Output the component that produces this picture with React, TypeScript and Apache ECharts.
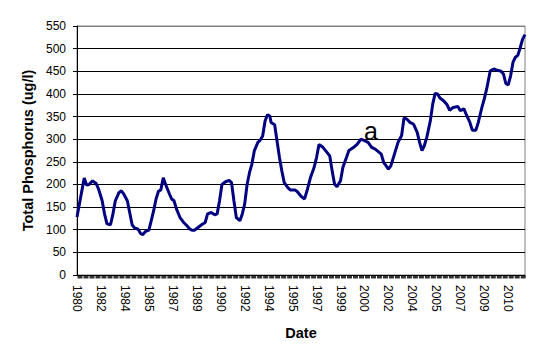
import React, { useEffect, useRef } from "react";
import * as echarts from "echarts";

// Category labels every 20 months along the date axis
const yearLabels = [
  "1980", "1982", "1984", "1985", "1987", "1989", "1990", "1992", "1994", "1995",
  "1997", "1999", "2000", "2002", "2004", "2005", "2007", "2009", "2010",
];

// Month index from start of record (0 = late 1980)
const monthIndex = [
  0, 6, 8, 10, 13, 16, 18, 21, 23, 25, 28, 30, 32, 35, 37, 39, 42, 44, 46, 48,
  51, 53, 55, 57, 60, 62, 64, 66, 68, 70, 72, 74, 77, 79, 81, 83, 86, 89, 91, 94,
  96, 98, 101, 104, 107, 109, 112, 115, 117, 119, 121, 124, 127, 129, 131, 133, 136, 138, 140, 142,
  144, 146, 148, 151, 153, 155, 157, 159, 161, 162, 165, 167, 169, 171, 173, 176, 178, 182, 184, 187,
  190, 192, 195, 198, 200, 202, 205, 208, 211, 213, 215, 217, 220, 222, 225, 227, 231, 234, 237, 240,
  243, 246, 249, 254, 256, 260, 262, 265, 268, 271, 273, 275, 278, 281, 284, 286, 288, 290, 292, 295,
  297, 299, 301, 303, 306, 309, 311, 314, 318, 320, 323, 325, 328, 330, 333, 335, 338, 340, 342, 345,
  348, 350, 354, 356, 358, 360, 362, 364, 366, 368, 370, 372, 374,
];

// Total phosphorus (ug/l)
const phosphorus = [
  128, 214, 199, 200, 208, 202, 190, 164, 135, 113, 111, 135, 164, 182, 186, 179, 164, 138, 111, 104,
  101, 92, 89, 96, 99, 120, 142, 168, 185, 188, 215, 200, 180, 168, 164, 146, 127, 116, 111, 102,
  99, 99, 105, 111, 116, 135, 138, 133, 135, 164, 200, 206, 209, 204, 164, 127, 120, 135, 157, 200,
  226, 245, 274, 293, 298, 307, 340, 354, 351, 337, 332, 296, 260, 230, 204, 193, 188, 188, 184, 174,
  168, 186, 216, 238, 260, 288, 283, 273, 263, 230, 201, 195, 208, 238, 260, 275, 282, 289, 300, 297,
  293, 282, 278, 267, 249, 234, 241, 267, 293, 308, 347, 345, 337, 333, 315, 293, 275, 286, 304, 341,
  378, 401, 400, 391, 385, 376, 364, 370, 372, 363, 367, 354, 337, 320, 320, 337, 370, 389, 411, 451,
  455, 453, 450, 444, 423, 420, 440, 470, 481, 485, 502, 521, 531,
];

// Minor tick marks on the date axis: every 5 months
const TICK_STEP = 5;
const MONTH_MAX = 374;
const tickMonths: number[] = [];
for (let m = 0; m < MONTH_MAX; m += TICK_STEP) tickMonths.push(m);

const FONT = "'Liberation Sans', Arial, sans-serif";

export default function App() {
  const ref = useRef<HTMLDivElement>(null);

  useEffect(() => {
    document.body.style.margin = "0";
    const chart = echarts.init(ref.current as HTMLDivElement, null, { renderer: "svg" });
    const gridColors: string[] = [];
    for (let i = 0; i < 11; i++) gridColors.push("#000000");
    gridColors.push("#808080");

    chart.setOption({
      animation: false,
      backgroundColor: "#ffffff",
      grid: {
        left: 77,
        right: 22,
        top: 26,
        bottom: 85,
        show: true,
        borderColor: "#808080",
        borderWidth: 1,
      },
      xAxis: {
        type: "value",
        min: 0,
        max: MONTH_MAX,
        interval: 20,
        name: "Date",
        nameLocation: "middle",
        nameGap: 50,
        nameTextStyle: { fontFamily: FONT, fontWeight: "bold", fontSize: 14.5, color: "#000" },
        axisLine: { show: true, lineStyle: { color: "#000", width: 1 } },
        axisTick: { show: false },
        splitLine: { show: false },
        axisLabel: {
          rotate: -90,
          margin: 10,
          fontFamily: FONT,
          fontSize: 12,
          color: "#000",
          showMaxLabel: false,
          formatter: (v: number) => (v % 20 === 0 && yearLabels[v / 20] ? yearLabels[v / 20] : ""),
        },
      },
      yAxis: {
        type: "value",
        min: 0,
        max: 550,
        interval: 50,
        name: "Total Phosphorus (ug/l)",
        nameLocation: "middle",
        nameGap: 42,
        nameRotate: 90,
        nameTextStyle: { fontFamily: FONT, fontWeight: "bold", fontSize: 14.5, color: "#000" },
        axisLine: { show: true, lineStyle: { color: "#000", width: 1 } },
        axisTick: { show: true, length: 4, lineStyle: { color: "#000", width: 1 } },
        splitLine: { show: true, lineStyle: { color: gridColors, width: 1 } },
        axisLabel: { margin: 11, fontFamily: FONT, fontSize: 12, color: "#000" },
      },
      series: [
        {
          type: "line",
          data: monthIndex.map((m, i) => [m, phosphorus[i]]),
          symbol: "none",
          showSymbol: false,
          lineStyle: { color: "#000080", width: 3 },
          z: 3,
        },
        {
          type: "scatter",
          data: tickMonths.map((m) => [m, 0]),
          symbol: "rect",
          symbolSize: [5, 3],
          symbolOffset: [3, 2],
          itemStyle: { color: "#000" },
          clip: false,
          silent: true,
          z: 4,
        },
      ],
      graphic: [
        {
          type: "text",
          x: 371,
          y: 131,
          z: 10,
          style: {
            text: "a",
            fontFamily: FONT,
            fontSize: 25,
            fill: "#000",
            align: "center",
            verticalAlign: "middle",
          },
        },
      ],
    });

    return () => chart.dispose();
  }, []);

  return <div ref={ref} style={{ width: 547, height: 360 }} />;
}
